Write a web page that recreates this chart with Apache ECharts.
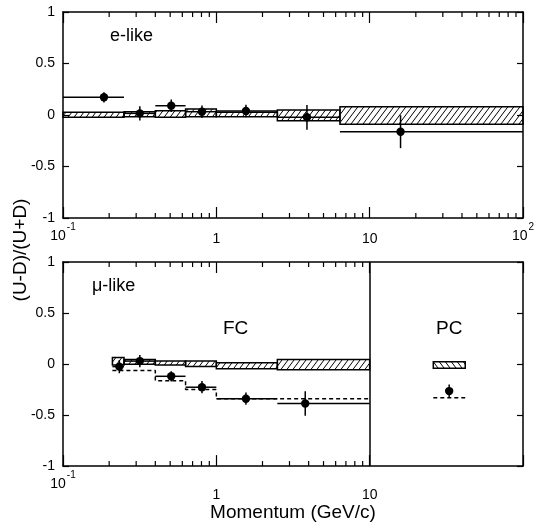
<!DOCTYPE html>
<html><head><meta charset="utf-8">
<script src="https://cdn.jsdelivr.net/npm/echarts@6/dist/echarts.min.js"></script>
<style>html,body{margin:0;padding:0;background:#fff}#c{width:542px;height:523px}</style>
</head><body><div id="c"></div>
<script>
// ---------- e-like panel (top) ----------
const eBinLo      = [0.1, 0.25, 0.4, 0.63, 1.0, 2.5, 6.4];
const eBinHi      = [0.25, 0.4, 0.63, 1.0, 2.5, 6.4, 100];
const eMcCenter   = [0.002, 0.008, 0.01, 0.021, 0.005, -0.003, -0.005];
const eMcHalf     = [0.024, 0.024, 0.032, 0.037, 0.022, 0.052, 0.085];
const ePointX     = [0.185, 0.317, 0.508, 0.806, 1.56, 3.9, 15.9];
const ePointY     = [0.172, 0.016, 0.09, 0.032, 0.039, -0.022, -0.162];
const ePointErr   = [0.05, 0.07, 0.06, 0.06, 0.06, 0.12, 0.16];

// ---------- mu-like FC panel (bottom) ----------
const muBinLo     = [0.21, 0.25, 0.4, 0.63, 1.0, 2.5];
const muBinHi     = [0.25, 0.4, 0.63, 1.0, 2.5, 10];
const muMcCenter  = [0.027, 0.021, 0.01, 0.002, -0.017, -0.006];
const muMcHalf    = [0.037, 0.024, 0.02, 0.027, 0.03, 0.05];
const muPointX    = [0.233, 0.317, 0.508, 0.806, 1.56, 3.8];
const muPointY    = [-0.025, 0.029, -0.12, -0.227, -0.34, -0.387];
const muPointErr  = [0.065, 0.06, 0.05, 0.06, 0.06, 0.12];
const muOscLo     = [0.21, 0.4, 0.63, 1.0];
const muOscHi     = [0.4, 0.63, 1.0, 10];
const muOscY      = [-0.063, -0.163, -0.25, -0.34];

// ---------- mu-like PC ----------
const pcBinLo     = [26];
const pcBinHi     = [42];
const pcMcCenter  = [-0.009];
const pcMcHalf    = [0.032];
const pcPointX    = [33];
const pcPointY    = [-0.265];
const pcPointErr  = [0.065];
const pcOscY      = [-0.33];

// ---------- ticks / labels ----------
const topMinorTicks    = [0.2,0.3,0.4,0.5,0.6,0.7,0.8,0.9,2,3,4,5,6,7,8,9,20,30,40,50,60,70,80,90];
const bottomMinorTicks = [0.2,0.3,0.4,0.5,0.6,0.7,0.8,0.9,2,3,4,5,6,7,8,9];
const topXLabelValues    = [0.1, 1, 10, 100];
const topXLabelText      = ['10^-1', '1', '10', '10^2'];
const bottomXLabelValues = [0.1, 1, 10];
const bottomXLabelText   = ['10^-1', '1', '10'];

const FONT = "'Liberation Sans', Arial, Helvetica, sans-serif";

function hatch(dir) {
  const w = 6, h = 8;
  const c = document.createElement('canvas');
  c.width = w; c.height = h;
  const g = c.getContext('2d');
  g.strokeStyle = '#000'; g.lineWidth = 1;
  g.beginPath();
  if (dir > 0) {
    g.moveTo(0, h); g.lineTo(w, 0);
    g.moveTo(-w, h); g.lineTo(0, 0);
    g.moveTo(w, h); g.lineTo(2 * w, 0);
  } else {
    g.moveTo(0, 0); g.lineTo(w, h);
    g.moveTo(-w, 0); g.lineTo(0, h);
    g.moveTo(w, 0); g.lineTo(2 * w, h);
  }
  g.stroke();
  return c;
}
const hatchFwd = hatch(1), hatchBack = hatch(-1);

function boxData(lo, hi, c, hw) { return lo.map((v, i) => [v, hi[i], c[i], hw[i]]); }
function pointData(x, y, e, lo, hi) { return x.map((v, i) => [v, y[i], e[i], lo ? lo[i] : null, hi ? hi[i] : null]); }
function stepData(lo, hi, y) { const d = []; lo.forEach((v, i) => { d.push([v, y[i]]); d.push([hi[i], y[i]]); }); return d; }

function boxSeries(xi, yi, data, pattern) {
  return {
    type: 'custom', xAxisIndex: xi, yAxisIndex: yi, data: data, z: 3,
    encode: { x: [0, 1], y: 2 },
    renderItem: function (params, api) {
      const lo = api.value(0), hi = api.value(1), c = api.value(2), hw = api.value(3);
      const p1 = api.coord([lo, c + hw]), p2 = api.coord([hi, c - hw]);
      return { type: 'rect', shape: { x: p1[0], y: p1[1], width: p2[0] - p1[0], height: p2[1] - p1[1] },
        style: { fill: { image: pattern, repeat: 'repeat' }, stroke: '#000', lineWidth: 1.5 } };
    }
  };
}
function pointSeries(xi, yi, data) {
  return {
    type: 'custom', xAxisIndex: xi, yAxisIndex: yi, data: data, z: 5,
    encode: { x: 0, y: 1 },
    renderItem: function (params, api) {
      const x = api.value(0), y = api.value(1), e = api.value(2), lo = api.value(3), hi = api.value(4);
      const c = api.coord([x, y]), t = api.coord([x, y + e]), b = api.coord([x, y - e]);
      const ch = [
        { type: 'line', shape: { x1: c[0], y1: t[1], x2: c[0], y2: b[1] }, style: { stroke: '#000', lineWidth: 1.5 } },
        { type: 'circle', shape: { cx: c[0], cy: c[1], r: 4.2 }, style: { fill: '#000' } }
      ];
      if (lo != null && !isNaN(lo)) {
        const l = api.coord([lo, y]), r = api.coord([hi, y]);
        ch.unshift({ type: 'line', shape: { x1: l[0], y1: l[1], x2: r[0], y2: r[1] }, style: { stroke: '#000', lineWidth: 1.5 } });
      }
      return { type: 'group', children: ch };
    }
  };
}
function minorTickSeries(xi, yi, vals) {
  return {
    type: 'custom', xAxisIndex: xi, yAxisIndex: yi, data: vals.map(v => [v, 0]), z: 6, silent: true,
    encode: { x: 0, y: 1 }, clip: false,
    renderItem: function (params, api) {
      const v = api.value(0);
      const t = api.coord([v, 1]), b = api.coord([v, -1]);
      return { type: 'group', children: [
        { type: 'line', shape: { x1: t[0], y1: t[1], x2: t[0], y2: t[1] + 5 }, style: { stroke: '#000', lineWidth: 1.2 } },
        { type: 'line', shape: { x1: b[0], y1: b[1], x2: b[0], y2: b[1] - 5 }, style: { stroke: '#000', lineWidth: 1.2 } }
      ] };
    }
  };
}
function stepSeries(xi, yi, data) {
  return { type: 'line', xAxisIndex: xi, yAxisIndex: yi, data: data, symbol: 'none', z: 4, silent: true,
    lineStyle: { color: '#000', width: 1.5, type: [4, 3] } };
}

function labelFormatter(vals, texts, plainStyle) {
  return function (v) {
    const k = Math.round(Math.log10(v));
    const i = vals.findIndex(x => Math.round(Math.log10(x)) === k);
    if (i < 0) return '';
    const t = texts[i];
    if (t.indexOf('^') >= 0) { const p = t.split('^'); return '{b|' + p[0] + '}{s|' + p[1] + '}'; }
    return '{' + plainStyle + '|' + t + '}';
  };
}
const richLab = {
  b: { fontSize: 14, fontFamily: FONT, color: '#000' },
  s: { fontSize: 10, fontFamily: FONT, color: '#000', padding: [0, 0, 18, 1] },
  p: { fontSize: 14, fontFamily: FONT, color: '#000', padding: [10, 0, 0, 0] },
  q: { fontSize: 14, fontFamily: FONT, color: '#000', padding: [18, 0, 0, 0] }
};

function xAx(grid, pos, labels) {
  const o = {
    type: 'log', logBase: 10, min: 0.1, max: 100, gridIndex: grid, position: pos,
    axisLine: { show: true, onZero: false, lineStyle: { color: '#000', width: 1.5 } },
    axisTick: { show: true, inside: true, length: 11, lineStyle: { color: '#000', width: 1.2 } },
    splitLine: { show: false }, minorTick: { show: false },
    axisLabel: { show: false }
  };
  if (labels) Object.assign(o, labels);
  return o;
}
function yAx(grid, pos, showLabel) {
  return {
    type: 'value', min: -1, max: 1, interval: 0.5, gridIndex: grid, position: pos,
    axisLine: { show: true, onZero: false, lineStyle: { color: '#000', width: 1.5 } },
    axisTick: { show: true, inside: true, length: 6, lineStyle: { color: '#000', width: 1.2 } },
    splitLine: { show: false },
    axisLabel: { show: showLabel, color: '#000', fontSize: 14, fontFamily: FONT, margin: 8,
      formatter: v => String(Math.round(v * 10) / 10) }
  };
}

const chart = echarts.init(document.getElementById('c'), null, { renderer: 'canvas' });
chart.setOption({
  backgroundColor: '#fff',
  animation: false,
  grid: [
    { left: 63, top: 12, width: 460, height: 206 },
    { left: 63, top: 262, width: 460, height: 208 }
  ],
  xAxis: [
    xAx(0, 'bottom', { axisLabel: { show: true, margin: 4, formatter: labelFormatter(topXLabelValues, topXLabelText, 'p'), rich: richLab } }),
    xAx(0, 'top'),
    xAx(1, 'bottom', { axisLabel: { show: true, margin: 4, formatter: labelFormatter(bottomXLabelValues, bottomXLabelText, 'q'), rich: richLab },
      name: 'Momentum (GeV/c)', nameLocation: 'middle', nameGap: 33,
      nameTextStyle: { color: '#000', fontSize: 19, fontFamily: FONT } }),
    xAx(1, 'top')
  ],
  yAxis: [ yAx(0, 'left', true), yAx(0, 'right', false), yAx(1, 'left', true), yAx(1, 'right', false) ],
  graphic: [
    { type: 'text', left: 110, top: 27, style: { text: 'e-like', fontSize: 18, fontFamily: FONT, fill: '#000' } },
    { type: 'text', left: 92, top: 277, style: { text: 'μ-like', fontSize: 18, fontFamily: FONT, fill: '#000' } },
    { type: 'text', left: 223, top: 319, style: { text: 'FC', fontSize: 19, fontFamily: FONT, fill: '#000' } },
    { type: 'text', left: 436, top: 319, style: { text: 'PC', fontSize: 19, fontFamily: FONT, fill: '#000' } },
    { type: 'text', x: 21, y: 250, rotation: Math.PI / 2,
      style: { text: '(U-D)/(U+D)', fontSize: 19, fontFamily: FONT, fill: '#000', align: 'center', verticalAlign: 'middle' } }
  ],
  series: [
    boxSeries(0, 0, boxData(eBinLo, eBinHi, eMcCenter, eMcHalf), hatchFwd),
    pointSeries(0, 0, pointData(ePointX, ePointY, ePointErr, eBinLo, eBinHi)),
    minorTickSeries(0, 0, topMinorTicks),

    Object.assign(boxSeries(2, 2, boxData(muBinLo, muBinHi, muMcCenter, muMcHalf), hatchFwd), {
      markLine: { silent: true, symbol: 'none', label: { show: false }, animation: false,
        lineStyle: { color: '#000', width: 1.5, type: 'solid' }, data: [{ xAxis: 10 }] }
    }),
    boxSeries(2, 2, boxData(pcBinLo, pcBinHi, pcMcCenter, pcMcHalf), hatchBack),
    stepSeries(2, 2, stepData(muOscLo, muOscHi, muOscY)),
    stepSeries(2, 2, stepData(pcBinLo, pcBinHi, pcOscY)),
    pointSeries(2, 2, pointData(muPointX, muPointY, muPointErr, muBinLo, muBinHi)),
    pointSeries(2, 2, pointData(pcPointX, pcPointY, pcPointErr, null, null)),
    minorTickSeries(2, 2, bottomMinorTicks)
  ]
});
</script>
</body></html>
